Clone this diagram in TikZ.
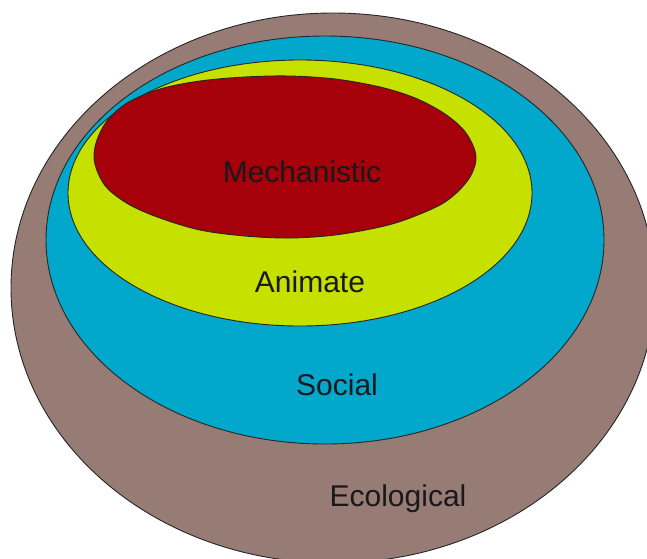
\documentclass[tikz,border=0pt]{standalone}
\usepackage{fontspec}
\setmainfont{Liberation Sans}
\usepackage{xcolor}

\definecolor{ecobrown}{HTML}{967C74}
\definecolor{socblue}{HTML}{02A8CC}
\definecolor{animyellow}{HTML}{C6E000}
\definecolor{mechred}{HTML}{A6000B}

\begin{document}
\begin{tikzpicture}[
            x = 1pt, y = -1pt, % work in image pixels, y pointing down
            ring/.style = {draw=black!85, line width=0.9pt}, % outline of each level
            ringtext/.style = {font=\fontsize{30}{32}\selectfont, text=black!90, anchor=base}
        ]
\useasboundingbox (0,0) rectangle (647,558);
\clip (0,0) rectangle (647,558);
\fill[white] (0,0) rectangle (647,558);

% nested levels, outermost first
\path[ring, fill=ecobrown] (333,288) ellipse [x radius=322pt, y radius=275pt];
\path[ring, fill=socblue] (325,240) ellipse [x radius=279pt, y radius=204pt];
\path[ring, fill=animyellow] (300,193) ellipse [x radius=232pt, y radius=133pt];
% innermost one leans into the upper left corner
\path[ring, fill=mechred] plot[smooth cycle, tension=0.55] coordinates {
    (94,157) (97,140) (107,121) (127,103) (160,89) (200,81) (245,77) (289,76)
    (335,79) (380,87) (415,98) (445,114) (466,133) (476,157) (468,180)
    (445,202) (410,218) (380,227) (335,235) (290,238) (245,236) (200,230)
    (160,218) (130,205) (108,189) (98,173)};

\node[ringtext] (M) at (302,182) {Mechanistic};
\node[ringtext] (A) at (310,292) {Animate};
\node[ringtext] (S) at (337,395) {Social};
\node[ringtext] (E) at (398,506) {Ecological};
\end{tikzpicture}
\end{document}
